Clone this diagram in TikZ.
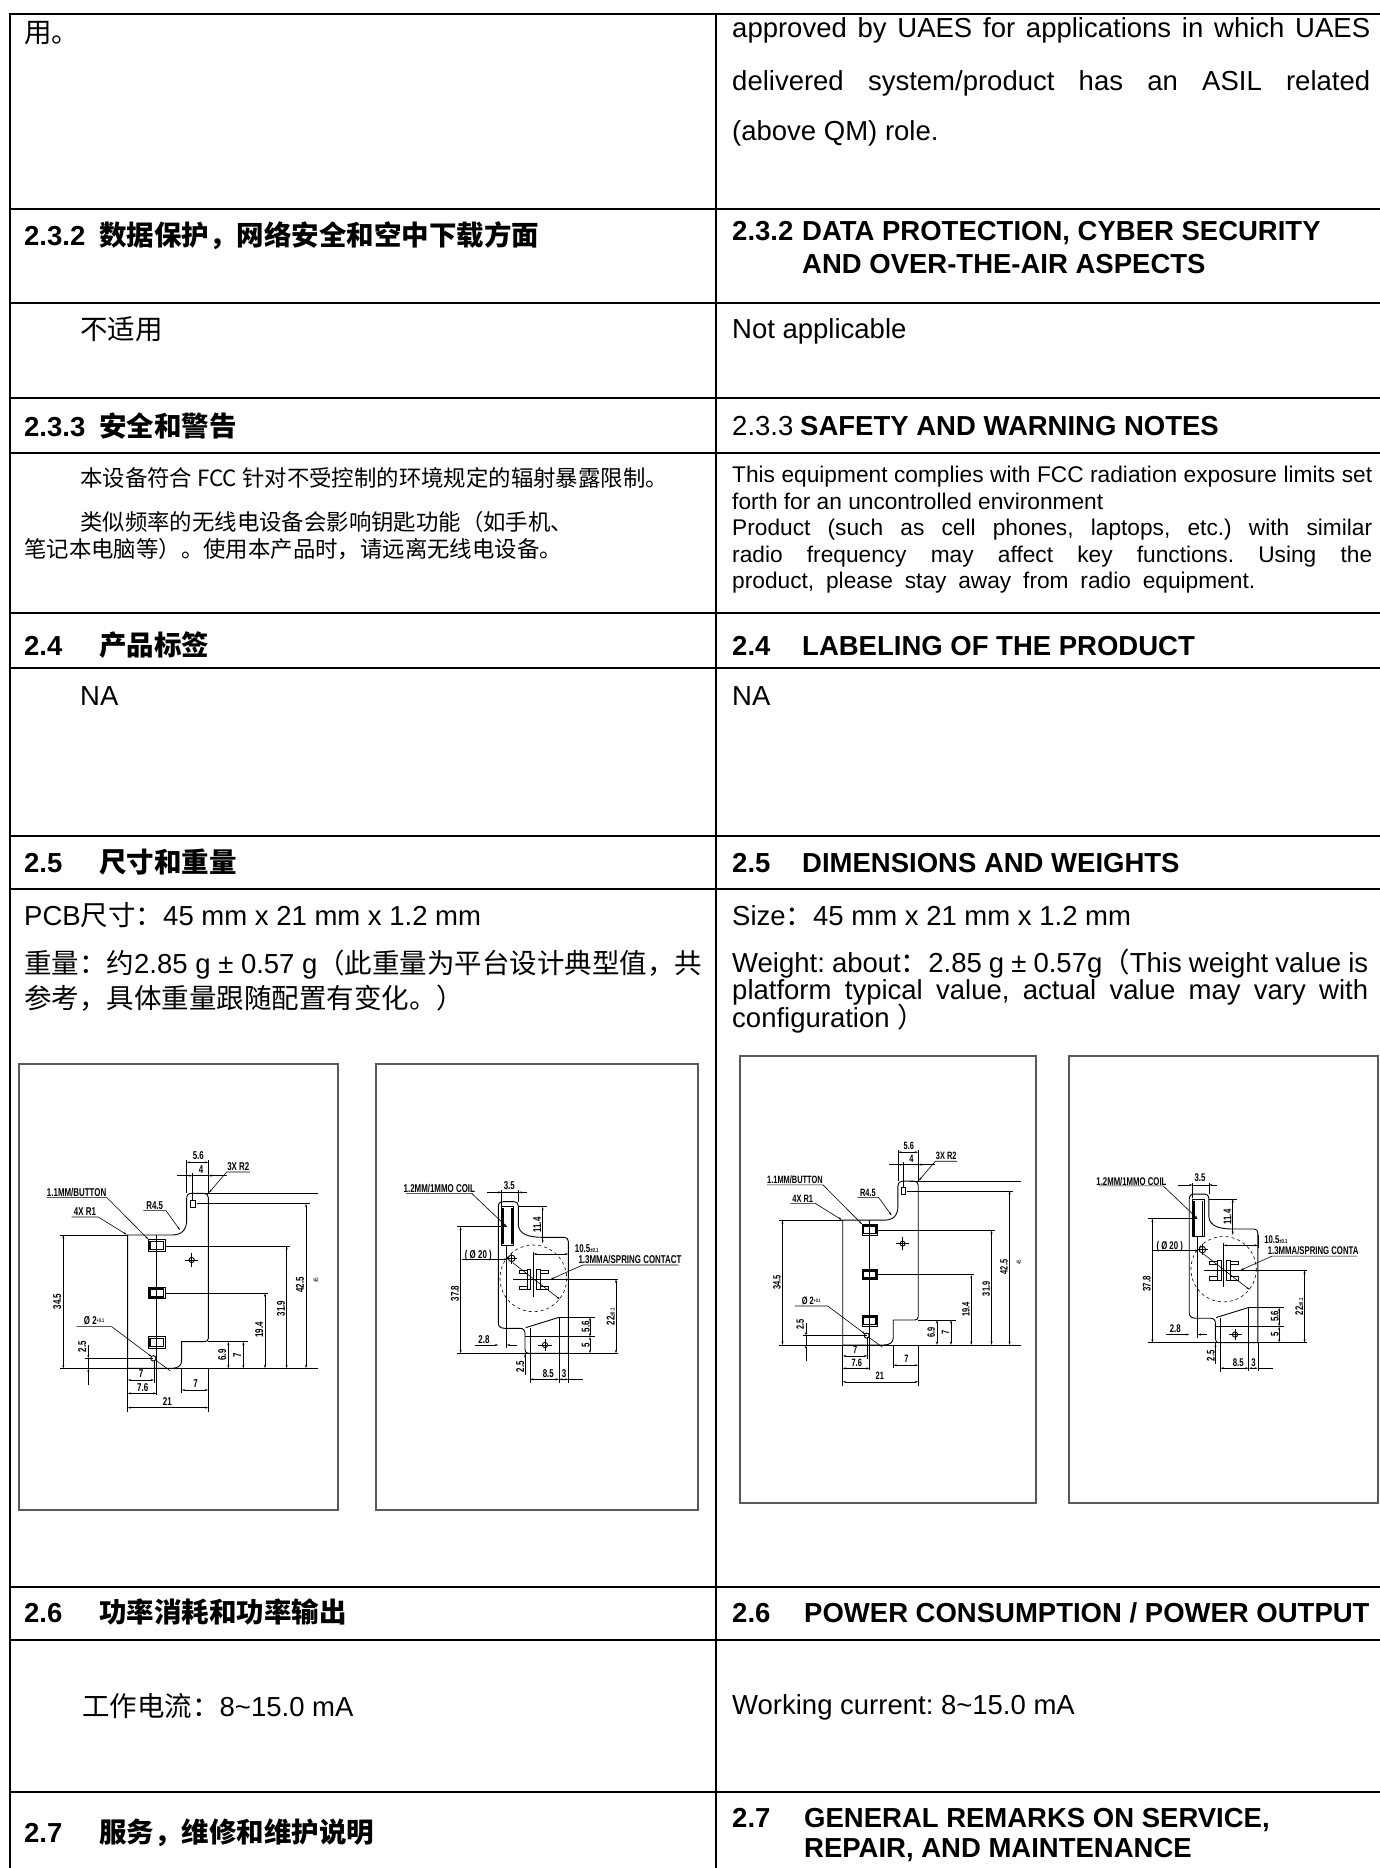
\documentclass[tikz,border=0pt]{standalone}
\usepackage{fontspec}
\setmainfont{Liberation Sans}
\newfontfamily\cjk{Noto Sans CJK SC}
\newfontfamily\cadfont{Liberation Sans}[FakeStretch=0.7]
\usetikzlibrary{arrows.meta}
\frenchspacing

\tikzset{
  rowline/.style={line width=2.6pt, line cap=rect},
  txt/.style={anchor=base west, inner sep=0pt, font=\fontsize{27.5}{33}\selectfont},
  hd/.style={anchor=base west, inner sep=0pt, font=\fontsize{27.5}{33}\selectfont\bfseries},
  sm/.style={anchor=base west, inner sep=0pt, font=\fontsize{22.7}{27}\selectfont},
  smcn/.style={anchor=base west, inner sep=0pt, font=\fontsize{22.4}{27}\selectfont\cjk},
  figbox/.style={draw=black!65, line width=1.2pt},
  cad/.style={line width=0.9pt},
  ext/.style={line width=0.6pt},
  dim/.style={line width=0.6pt, {Stealth[length=3.5pt,width=2pt]}-{Stealth[length=3.5pt,width=2pt]}},
  arr/.style={line width=0.6pt, -{Stealth[length=3.5pt,width=2pt]}},
  lbl/.style={inner sep=0pt, transform shape, font=\cadfont\bfseries\fontsize{34}{36}\selectfont},
  vlbl/.style={lbl, rotate=90},
  % front view of the board
  cadfront/.pic={
    \draw[cad] (383,615) -- (515,615) .. controls (545,615) and (560,600) .. (560,570) -- (560,505)
      .. controls (560,495) and (565,490) .. (575,490) -- (612,490) .. controls (620,490) and (625,495) .. (625,503)
      -- (625,925) .. controls (625,932) and (620,935) .. (613,935) -- (545,935) -- (545,992)
      .. controls (545,1008) and (532,1015) .. (515,1015) -- (383,1015) -- cycle;
    \draw[cad] (470,615) -- (470,1095);
    \foreach \y in {646,789,937} {
      \draw[cad] (445,\y-17) rectangle (495,\y+17);
      \draw[line width=1.6pt] (450,\y-12) rectangle (490,\y+12);
    }
    \draw[cad] (575,690) circle (8);
    \draw[ext] (555,690) -- (595,690) (575,670) -- (575,710);
    \draw[cad] (572,510) rectangle (585,532);
    \draw[cad] (460,985) circle (8);
    % extension lines
    \draw[ext] (180,615) -- (383,615) (180,1015) -- (955,1015) (600,490) -- (955,490)
      (590,521) -- (930,521) (495,648) -- (870,648) (495,790) -- (805,790) (625,935) -- (745,935)
      (383,1015) -- (383,1145) (462,990) -- (462,1060) (545,1015) -- (545,1088) (625,1015) -- (625,1145)
      (560,390) -- (560,490) (625,390) -- (625,490) (578,428) -- (578,510) (255,985) -- (460,985);
    % dimensions
    \draw[dim] (560,397) -- (625,397);
    \draw[arr] (530,437) -- (578,437);
    \draw[arr] (680,437) -- (625,437);
    \draw[ext] (578,437) -- (625,437);
    \draw[dim] (190,615) -- (190,1015);
    \draw[dim] (918,521) -- (918,1015);
    \draw[dim] (860,648) -- (860,1015);
    \draw[dim] (795,790) -- (795,1015);
    \draw[dim] (730,935) -- (730,1015);
    \draw[dim] (685,935) -- (685,1015);
    \draw[arr] (265,945) -- (265,985);
    \draw[arr] (265,1065) -- (265,1015);
    \draw[ext] (265,985) -- (265,1015);
    \draw[dim] (383,1050) -- (462,1050);
    \draw[dim] (383,1090) -- (470,1090);
    \draw[dim] (383,1133) -- (625,1133);
    \draw[dim] (545,1080) -- (625,1080);
    % leaders
    \draw[arr] (750,426) -- (680,426) -- (627,488);
    \draw[arr] (140,502) -- (320,502) -- (445,628);
    \draw[arr] (215,561) -- (295,561) -- (380,614);
    \draw[arr] (430,542) -- (498,542) -- (540,600);
    \draw[arr] (230,890) -- (335,890) -- (455,980);
    \draw[ext] (465,989) -- (510,1022);
    % labels
    \node[lbl] (-d56) at (595,378) {5.6};
    \node[lbl] (-d4) at (603,418) {4};
    \node[lbl] (-r2) at (715,410) {3X R2};
    \node[lbl] (-btn) at (230,487) {1.1MM/BUTTON};
    \node[lbl] (-r1) at (255,546) {4X R1};
    \node[lbl] (-r45) at (464,527) {R4.5};
    \node[vlbl] (-d345) at (172,815) {34.5};
    \node[lbl] (-hole) at (282,873) {Ø 2\raisebox{6pt}{\fontsize{16}{16}\selectfont +0.1}};
    \node[vlbl] (-d25) at (247,950) {2.5};
    \node[lbl] (-d7a) at (423,1032) {7};
    \node[lbl] (-d76) at (428,1072) {7.6};
    \node[lbl] (-d21) at (502,1115) {21};
    \node[lbl] (-d7b) at (587,1060) {7};
    \node[vlbl] (-d69) at (667,975) {6.9};
    \node[vlbl] (-d7c) at (712,975) {7};
    \node[vlbl] (-d194) at (778,900) {19.4};
    \node[vlbl] (-d319) at (843,835) {31.9};
    \node[vlbl] (-d425) at (900,765) {42.5};
    \node[vlbl, font=\cadfont\fontsize{20}{20}\selectfont] (-d45) at (948,750) {45};
  },
  % back view of the board
  cadback/.pic={
    \draw[cad] (415,880) -- (415,530) .. controls (415,520) and (420,515) .. (430,515) -- (462,515)
      .. controls (470,515) and (475,520) .. (475,528) -- (475,585) .. controls (477,612) and (505,622) .. (548,622)
      -- (613,622) .. controls (620,622) and (625,627) .. (625,634) -- (625,970) -- (505,970)
      .. controls (498,970) and (495,965) .. (495,958) -- (495,912) .. controls (495,900) and (490,895) .. (480,895)
      -- (435,895) .. controls (423,895) and (415,890) .. (415,880) -- cycle;
    \draw[cad] (425,530) rectangle (460,645);
    \draw[line width=1.6pt] (429,535) -- (429,642) (456,535) -- (456,642);
    \draw[ext] (440,645) -- (440,955);
    \draw[ext, dashed] (520,745) circle (100);
    \draw[cad] (502,718) rectangle (512,778) (530,718) rectangle (540,778);
    \draw[cad] (478,720) rectangle (502,730) (478,768) rectangle (502,778)
      (540,720) rectangle (565,730) (540,768) rectangle (565,778);
    \draw[ext] (520,665) -- (520,800) (460,748) -- (775,748);
    \draw[cad] (455,685) circle (10);
    \draw[ext] (438,685) -- (472,685) (455,668) -- (455,702);
    \draw[cad] (555,945) circle (8);
    \draw[ext] (535,945) -- (575,945) (555,927) -- (555,963);
    \draw[cad] (497,893) -- (597,862);
    % extension lines
    \draw[ext] (597,862) -- (705,862) (597,862) -- (597,1058) (495,920) -- (705,920) (290,970) -- (775,970)
      (290,590) -- (440,590) (475,530) -- (560,530) (425,480) -- (425,528) (475,480) -- (475,515)
      (510,895) -- (510,1060) (625,970) -- (625,1058) (495,970) -- (495,1035) (625,640) -- (625,680);
    % dimensions
    \draw[arr] (380,487) -- (425,487);
    \draw[arr] (500,487) -- (475,487);
    \draw[ext] (425,487) -- (475,487);
    \draw[dim] (548,530) -- (548,640);
    \draw[dim] (302,590) -- (302,970);
    \draw[arr] (305,688) -- (443,688);
    \draw[dim] (520,672) -- (625,672);
    \draw[arr] (955,705) -- (668,705) -- (572,748);
    \draw[arr] (458,698) -- (600,808);
    \draw[dim] (768,748) -- (768,970);
    \draw[dim] (690,862) -- (690,920);
    \draw[dim] (690,920) -- (690,970);
    \draw[ext] (345,945) -- (395,945);
    \draw[arr] (395,945) -- (415,945);
    \draw[arr] (470,945) -- (440,945);
    \draw[arr] (495,1035) -- (495,972);
    \draw[dim] (510,1048) -- (597,1048);
    \draw[dim] (597,1048) -- (625,1048);
    \draw[ext] (625,1048) -- (670,1048);
    \draw[arr] (138,490) -- (335,490) -- (440,590);
    % labels
    \node[lbl] (-d35) at (448,466) {3.5};
    \node[vlbl] (-d114) at (532,585) {11.4};
    \node[vlbl] (-d378) at (285,790) {37.8};
    \node[lbl] (-dia) at (355,676) {( Ø 20 )};
    \node[lbl] (-coil) at (238,476) {1.2MM/1MMO COIL};
    \node[lbl] (-d105) at (680,655) {10.5{\fontsize{18}{18}\selectfont ±0.1}};
    \node[lbl] (-spr) at (810,688) {1.3MMA/SPRING CONTACT};
    \node[vlbl] (-d22) at (752,860) {22{\fontsize{18}{18}\selectfont ±0.1}};
    \node[vlbl] (-d56) at (677,890) {5.6};
    \node[vlbl] (-d5) at (677,945) {5};
    \node[lbl] (-d28) at (372,928) {2.8};
    \node[vlbl] (-d25) at (481,1010) {2.5};
    \node[lbl] (-d85) at (565,1030) {8.5};
    \node[lbl] (-d3) at (612,1030) {3};
  }
}

\begin{document}
\begin{tikzpicture}[x=1pt, y=-1pt]
  \useasboundingbox (0,0) rectangle (1380,1868);

  % table grid
  \foreach \y in {14,209,303,398,453,613,668,836,889,1587,1640,1792}
    \draw[rowline] (10,\y) -- (1380,\y);
  \draw[rowline] (10,14) -- (10,1870);
  \draw[rowline] (716,14) -- (716,1870);

  % left column
  \node[txt] (cnend) at (24,43) {\cjk 用。};
  \node[hd] (cn232n) at (24,245) {2.3.2};
  \node[hd] (cn232) at (99,245) {\cjk 数据保护，网络安全和空中下载方面};
  \node[txt] (cnna1) at (80,339) {\cjk 不适用};
  \node[hd] (cn233n) at (24,436) {2.3.3};
  \node[hd] (cn233) at (99,436) {\cjk 安全和警告};
  \node[smcn] (cnwarn1) at (80,486) {本设备符合 FCC 针对不受控制的环境规定的辐射暴露限制。};
  \node[smcn] (cnwarn2) at (80,530) {类似频率的无线电设备会影响钥匙功能（如手机、};
  \node[smcn] (cnwarn3) at (24,557) {笔记本电脑等）。使用本产品时，请远离无线电设备。};
  \node[hd] (cn24n) at (24,655) {2.4};
  \node[hd] (cn24) at (99,655) {\cjk 产品标签};
  \node[txt] (cnna2) at (80,705) {NA};
  \node[hd] (cn25n) at (24,872) {2.5};
  \node[hd] (cn25) at (99,872) {\cjk 尺寸和重量};
  \node[txt] (cnsize) at (24,925) {PCB{\cjk 尺寸：}45 mm x 21 mm x 1.2 mm};
  \node[txt] (cnwt1) at (24,973) {{\cjk 重量：约}2.85 g ± 0.57 g{\cjk （此重量为平台设计典型值，共}};
  \node[txt] (cnwt2) at (24,1008) {\cjk 参考，具体重量跟随配置有变化。）};
  \node[hd] (cn26n) at (24,1622) {2.6};
  \node[hd] (cn26) at (99,1622) {\cjk 功率消耗和功率输出};
  \node[txt] (cncur) at (82,1716) {{\cjk 工作电流：}8\textasciitilde 15.0 mA};
  \node[hd] (cn27n) at (24,1842) {2.7};
  \node[hd] (cn27) at (99,1842) {\cjk 服务，维修和维护说明};

  % right column
  \node[txt] (enend1) at (732,38) {\makebox[638pt][s]{approved by UAES for applications in which UAES}};
  \node[txt] (enend2) at (732,90) {\makebox[638pt][s]{delivered system/product has an ASIL related}};
  \node[txt] (enend3) at (732,140) {(above QM) role.};
  \node[hd] (en232n) at (732,240) {2.3.2};
  \node[hd] (en232a) at (802,240) {DATA PROTECTION, CYBER SECURITY};
  \node[hd] (en232b) at (802,273) {AND OVER-THE-AIR ASPECTS};
  \node[txt] (enna1) at (732,338) {Not applicable};
  \node[txt] (en233n) at (732,435) {2.3.3};
  \node[hd] (en233) at (800,435) {SAFETY AND WARNING NOTES};
  \node[sm] (enwarn1) at (732,482) {\makebox[640pt][s]{This equipment complies with FCC radiation exposure limits set}};
  \node[sm] (enwarn2) at (732,509) {forth for an uncontrolled environment};
  \node[sm] (enwarn3) at (732,535) {\makebox[640pt][s]{Product (such as cell phones, laptops, etc.) with similar}};
  \node[sm] (enwarn4) at (732,562) {\makebox[640pt][s]{radio frequency may affect key functions. Using the}};
  \node[sm] (enwarn5) at (732,588) {\makebox[523pt][s]{product, please stay away from radio equipment.}};
  \node[hd] (en24n) at (732,655) {2.4};
  \node[hd] (en24) at (802,655) {LABELING OF THE PRODUCT};
  \node[txt] (enna2) at (732,705) {NA};
  \node[hd] (en25n) at (732,872) {2.5};
  \node[hd] (en25) at (802,872) {DIMENSIONS AND WEIGHTS};
  \node[txt] (ensize) at (732,925) {Size{\cjk ：}45 mm x 21 mm x 1.2 mm};
  \node[txt] (enwt1) at (732,972) {\makebox[636pt][s]{Weight: about{\cjk ：}2.85 g ± 0.57g{\cjk （}This weight value is}};
  \node[txt] (enwt2) at (732,999) {\makebox[636pt][s]{platform typical value, actual value may vary with}};
  \node[txt] (enwt3) at (732,1027) {configuration {\cjk ）}};
  \node[hd] (en26n) at (732,1622) {2.6};
  \node[hd] (en26) at (804,1622) {POWER CONSUMPTION / POWER OUTPUT};
  \node[txt] (encur) at (732,1714) {Working current: 8\textasciitilde 15.0 mA};
  \node[hd] (en27n) at (732,1827) {2.7};
  \node[hd] (en27a) at (804,1827) {GENERAL REMARKS ON SERVICE,};
  \node[hd] (en27b) at (804,1857) {REPAIR, AND MAINTENANCE};

  % drawings
  \draw[figbox] (19,1064) rectangle (338,1510);
  \draw[figbox] (376,1064) rectangle (698,1510);
  \draw[figbox] (740,1056) rectangle (1036,1503);
  \draw[figbox] (1069,1056) rectangle (1378,1503);
  \begin{scope}[shift={(0,1030)}, scale=1/3]
    \pic[transform shape] (fronta) {cadfront};
  \end{scope}
  \begin{scope}[shift={(360,1030)}, scale=1/3]
    \pic[transform shape] (backa) {cadback};
  \end{scope}
  \begin{scope}[shift={(723.2,1028.3)}, scale=0.312]
    \pic[transform shape] (frontb) {cadfront};
  \end{scope}
  \begin{scope}
    \clip (1069,1056) rectangle (1357,1503);
    \begin{scope}[shift={(1053.7,1025.8)}, scale=0.3267]
      \pic[transform shape] (backb) {cadback};
    \end{scope}
  \end{scope}
\end{tikzpicture}
\end{document}
